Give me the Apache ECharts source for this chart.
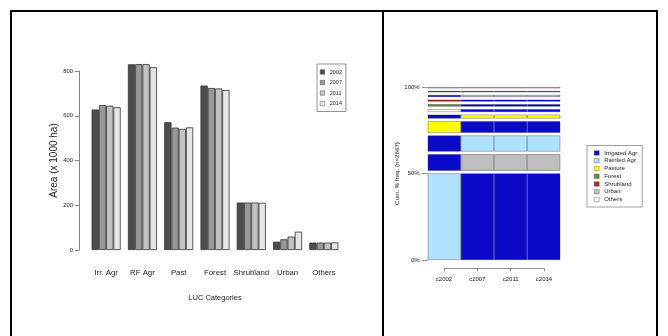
<!DOCTYPE html>
<html>
<head>
<meta charset="utf-8">
<script src="https://cdn.jsdelivr.net/npm/echarts@6/dist/echarts.min.js"></script>
<style>
  html, body { margin: 0; padding: 0; background: #fff; }
  #chart { width: 668px; height: 336px; }
</style>
</head>
<body>
<div id="chart"></div>
<script>
// ---- Land-use areas by category and year (x 1000 ha) ----
const categories = ['Irr. Agr', 'RF Agr', 'Past', 'Forest', 'Shrubland', 'Urban', 'Others'];
const years = ['2002', '2007', '2011', '2014'];
const area2002 = [628, 830, 571, 735, 212, 37, 33];
const area2007 = [648, 831, 547, 724, 212, 48, 33];
const area2011 = [645, 831, 541, 722, 212, 60, 33];
const area2014 = [638, 817, 548, 715, 211, 82, 34];
const areaTicks = [0, 200, 400, 600, 800];

// ---- Most frequent land-use trajectories ----
const periods = ['c2002', 'c2007', 'c2011', 'c2014'];
const states = ['Irrigated Agr', 'Rainfed Agr', 'Pasture', 'Forest', 'Shrubland', 'Urban', 'Others'];
// share of each trajectory (% of the cumulative axis), bottom to top
const seqFreq = [50.1, 9.6, 9.3, 6.8, 2.3, 1.6, 1.4, 1.2, 1.2, 0.8, 0.8];
// state index per period for each trajectory
const seqStates = [
  [1, 0, 0, 0],
  [0, 5, 5, 5],
  [0, 1, 1, 1],
  [2, 0, 0, 0],
  [0, 2, 2, 2],
  [6, 0, 0, 0],
  [3, 0, 0, 0],
  [4, 0, 0, 0],
  [0, 5, 5, 5],
  [0, 4, 4, 4],
  [5, 5, 5, 5]
];
const freqTicks = [0, 50, 100];

// ---- styling ----
const yearColors = ['#4D4D4D', '#989898', '#C3C3C3', '#E6E6E6'];
const stateColors = ['#0A0AC8', '#B0E2FF', '#FFFF00', '#6B8E23', '#B22222', '#BEBEBE', '#FFFFFF'];
const ROW_SPACE = 1.49;          // blank band between trajectories (axis units)
const SANS = "'Liberation Sans', Arial, sans-serif";
const INK = '#222';

const chart = echarts.init(document.getElementById('chart'), null, { renderer: 'canvas' });

const yearData = [area2002, area2007, area2011, area2014];
const areaSeries = years.map((y, i) => ({
  name: y,
  type: 'bar',
  xAxisIndex: 0,
  yAxisIndex: 0,
  data: yearData[i],
  clip: false,
  barGap: '0%',
  barCategoryGap: '20%',
  itemStyle: { color: yearColors[i], borderColor: '#333', borderWidth: 0.8 },
  emphasis: { disabled: true }
}));

// trajectories stacked, separated by blank spacer bands
const seqSeries = [];
seqFreq.forEach((f, r) => {
  if (r > 0) {
    seqSeries.push({
      type: 'bar', xAxisIndex: 1, yAxisIndex: 1, stack: 'seq',
      barCategoryGap: '0%', silent: true,
      data: periods.map(() => ROW_SPACE),
      itemStyle: { color: 'rgba(0,0,0,0)' }
    });
  }
  seqSeries.push({
    type: 'bar', xAxisIndex: 1, yAxisIndex: 1, stack: 'seq',
    barCategoryGap: '0%', silent: true,
    data: seqStates[r].map(s => ({
      value: f,
      itemStyle: { color: stateColors[s] }
    })),
    itemStyle: { borderColor: 'rgba(30,30,60,0.55)', borderWidth: 0.6 }
  });
});

// legend entries for the states
const stateLegendSeries = states.map((s, i) => ({
  name: s, type: 'bar', xAxisIndex: 1, yAxisIndex: 1, stack: 'seq',
  data: [],
  itemStyle: { color: stateColors[i], borderColor: '#555', borderWidth: 0.6 }
}));

const option = {
  animation: false,
  backgroundColor: '#fff',
  textStyle: { fontFamily: SANS, color: INK },
  grid: [
    { left: 88, right: 326, top: 71, bottom: 86 },
    { left: 427.7, right: 107.7, top: 87, bottom: 76 },
    { left: 444, right: 124, top: 200, bottom: 67.7 }
  ],
  legend: [
    {
      data: years,
      orient: 'vertical',
      left: 317, top: 64,
      padding: [5, 4, 5, 3],
      icon: 'rect',
      itemWidth: 4.5, itemHeight: 4.5, itemGap: 4.5,
      itemStyle: { borderColor: '#333', borderWidth: 0.4 },
      borderColor: '#777', borderWidth: 0.8,
      selectedMode: false,
      textStyle: { fontFamily: SANS, fontSize: 5.5, color: INK, lineHeight: 6 }
    },
    {
      data: states,
      orient: 'vertical',
      left: 587, top: 145.5,
      padding: [4.5, 5, 4.5, 7],
      icon: 'rect',
      itemWidth: 5, itemHeight: 4.5, itemGap: 1.75,
      itemStyle: { borderColor: '#555', borderWidth: 0.4 },
      borderColor: '#888', borderWidth: 0.8,
      selectedMode: false,
      textStyle: { fontFamily: SANS, fontSize: 6, color: INK, lineHeight: 6 }
    }
  ],
  xAxis: [
    {
      gridIndex: 0, type: 'category', data: categories,
      name: 'LUC Categories', nameLocation: 'middle', nameGap: 44,
      nameTextStyle: { fontFamily: SANS, fontSize: 7.5, color: INK },
      axisLine: { show: false }, axisTick: { show: false },
      axisLabel: { fontFamily: SANS, fontSize: 7.8, color: INK, margin: 19, interval: 0 }
    },
    {
      gridIndex: 1, type: 'category', data: periods, show: false
    },
    {
      gridIndex: 2, type: 'category', data: periods, boundaryGap: false,
      axisLine: { show: true, lineStyle: { color: '#777', width: 0.8 } },
      axisTick: { show: true, length: 3, lineStyle: { color: '#777', width: 0.8 } },
      axisLabel: { fontFamily: SANS, fontSize: 6, color: INK, margin: 8, interval: 0 }
    }
  ],
  yAxis: [
    {
      gridIndex: 0, type: 'value', min: areaTicks[0], max: areaTicks[areaTicks.length - 1],
      interval: areaTicks[1] - areaTicks[0], offset: 9,
      name: 'Area (x 1000 ha)', nameLocation: 'middle', nameGap: 20,
      nameTextStyle: { fontFamily: SANS, fontSize: 10, color: INK },
      splitLine: { show: false },
      axisLine: { show: true, lineStyle: { color: '#666', width: 0.8 } },
      axisTick: { show: true, length: 4, lineStyle: { color: '#666', width: 0.8 } },
      axisLabel: { fontFamily: SANS, fontSize: 5.8, color: INK, margin: 6 }
    },
    {
      gridIndex: 1, type: 'value', min: freqTicks[0], max: freqTicks[freqTicks.length - 1],
      interval: freqTicks[1] - freqTicks[0],
      name: 'Cum. % freq. (n=2667)', nameLocation: 'middle', nameGap: 22,
      nameTextStyle: { fontFamily: SANS, fontSize: 6.2, color: INK },
      splitLine: { show: false },
      axisLine: { show: false },
      axisTick: { show: true, length: 6, lineStyle: { color: '#777', width: 0.8 } },
      axisLabel: { fontFamily: SANS, fontSize: 6, color: INK, margin: 8, formatter: '{value}%' }
    },
    {
      gridIndex: 2, type: 'value', min: 0, max: 1, show: false
    }
  ],
  graphic: [
    { type: 'rect', silent: true, z: 100,
      shape: { x: 11, y: 11, width: 372, height: 340 },
      style: { fill: 'none', stroke: '#000', lineWidth: 2 } },
    { type: 'rect', silent: true, z: 100,
      shape: { x: 383, y: 11, width: 274, height: 340 },
      style: { fill: 'none', stroke: '#000', lineWidth: 2 } }
  ],
  series: [...areaSeries, ...seqSeries, ...stateLegendSeries]
};

chart.setOption(option);
</script>
</body>
</html>
